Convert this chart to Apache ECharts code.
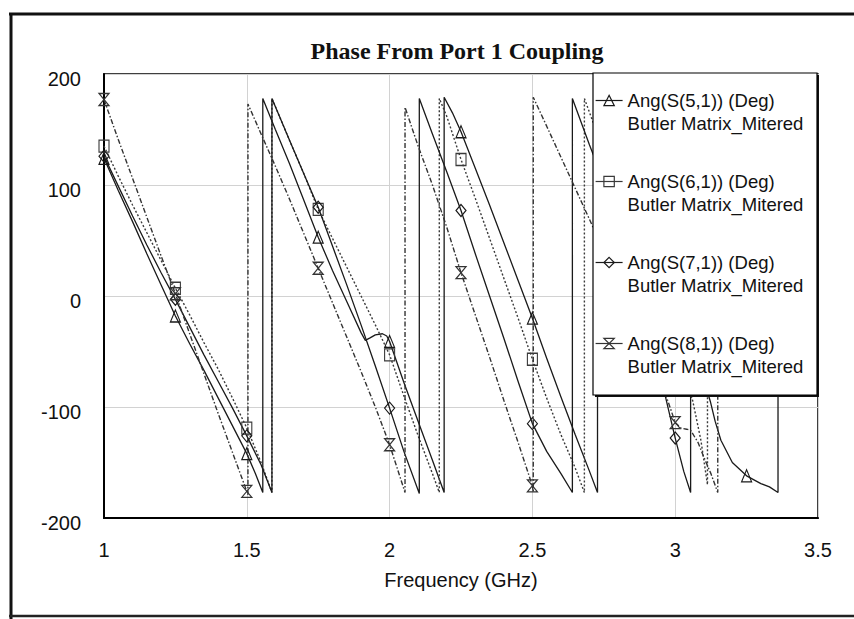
<!DOCTYPE html>
<html><head><meta charset="utf-8">
<script src="https://cdn.jsdelivr.net/npm/echarts@6/dist/echarts.min.js"></script>
<style>html,body{margin:0;padding:0;background:#fff}#c{width:854px;height:619px}</style>
</head><body><div id="c"></div>
<script>
const chartTitle = 'Phase From Port 1 Coupling';
const xAxisName = 'Frequency (GHz)';
const xTicks = [1, 1.5, 2, 2.5, 3, 3.5];
const yTicks = [-200, -100, 0, 100, 200];
const markerFreqs = [1, 1.25, 1.5, 1.75, 2, 2.25, 2.5, 2.75, 3, 3.25];
const seriesNames = ['Ang(S(5,1)) (Deg)', 'Ang(S(6,1)) (Deg)', 'Ang(S(7,1)) (Deg)', 'Ang(S(8,1)) (Deg)'];
const docName = 'Butler Matrix_Mitered';

const s51Freq = [1.0,1.05,1.1,1.15,1.2,1.25,1.3,1.35,1.4,1.45,1.5,1.53,1.556, 1.556,1.6,1.65,1.7,1.75,1.8,1.85,1.9,1.915,1.93,1.95,1.975,1.99,2.0,2.05,2.1,2.15,2.191, 2.191,2.22,2.25,2.3,2.35,2.4,2.45,2.5,2.55,2.6,2.65,2.7,2.728, 2.728,2.75,2.8,2.85,2.9,2.95,3.0,3.05,3.1,3.123,3.14,3.16,3.2,3.25,3.3,3.33,3.36, 3.36,3.37];
const s51Phase = [124,95,67,38,10,-18,-43,-67,-92,-117,-142,-160,-177, 178,150,119,86,53,23,-5,-33,-40,-38,-35,-34,-36,-41,-78,-113,-148,-177, 179,165,148,115,82,48,14,-20,-56,-91,-125,-158,-177, 178,163,130,96,62,28,-6,-40,-75,-95,-113,-130,-150,-162,-169,-172,-177, 178,172];

const s61Freq = [1.0,1.05,1.1,1.15,1.2,1.25,1.3,1.35,1.4,1.45,1.5,1.55,1.588, 1.588,1.65,1.7,1.75,1.8,1.85,1.9,1.95,2.0,2.05,2.1,2.15,2.174, 2.174,2.2,2.25,2.3,2.35,2.4,2.45,2.5,2.55,2.6,2.65,2.682, 2.682,2.75,2.8,2.85,2.9,2.95,3.0,3.061,3.09,3.113, 3.113,3.2,3.25,3.3,3.37];
const s61Phase = [135,108,82,57,32,7,-17,-42,-66,-92,-119,-150,-177, 178,140,110,78,52,26,0,-26,-53,-90,-126,-160,-177, 178,162,123,88,52,16,-20,-57,-92,-125,-155,-177, 178,130,95,60,25,-10,-45,-94,-130,-170, 178,118,84,50,2];

const s71Freq = [1.0,1.05,1.1,1.15,1.2,1.25,1.3,1.35,1.4,1.45,1.5,1.55,1.588, 1.588,1.65,1.7,1.75,1.8,1.85,1.9,1.95,2.0,2.05,2.104, 2.104,2.15,2.2,2.25,2.3,2.35,2.4,2.45,2.5,2.55,2.6,2.64, 2.64,2.7,2.75,2.8,2.85,2.9,2.967,3.0,3.03,3.054, 3.054,3.1,3.2,3.25,3.3,3.37];
const s71Phase = [126,99,72,46,21,-3,-28,-53,-77,-101,-126,-152,-177, 178,140,110,80,45,10,-26,-63,-101,-140,-178, 178,146,112,77,38,0,-38,-77,-115,-140,-160,-177, 178,136,103,65,25,-15,-92,-128,-158,-177, 178,140,60,22,-15,-68];

const s81Freq = [1.0,1.05,1.1,1.15,1.2,1.25,1.3,1.35,1.4,1.45,1.5,1.504, 1.504,1.55,1.6,1.65,1.7,1.75,1.8,1.85,1.9,1.95,2.0,2.054, 2.054,2.1,2.15,2.2,2.25,2.3,2.35,2.4,2.45,2.5,2.503, 2.503,2.55,2.6,2.65,2.7,2.75,2.8,2.85,2.9,2.95,2.975,3.0,3.02,3.04,3.054,3.08,3.1,3.125,3.149, 3.149,3.2,3.25,3.3,3.37];
const s81Phase = [177,141,106,71,36,2,-34,-70,-106,-141,-176,-179, 173,146,117,87,56,25,-6,-37,-68,-100,-134,-177, 170,135,100,62,21,-17,-55,-94,-132,-171,-177, 179,153,125,97,69,40,11,-18,-48,-79,-95,-114,-119,-120,-121,-132,-145,-160,-177, 178,148,118,88,46];

function build(freq, phase) {
  return freq.map(function (f, i) {
    const onGrid = markerFreqs.some(function (m) { return Math.abs(m - f) < 1e-9; });
    const first = !(i > 0 && freq[i - 1] === f);
    return (onGrid && first) ? { value: [f, phase[i]] } : { value: [f, phase[i]], symbol: 'none' };
  });
}

const hourglass = 'path://M0,0L10,0L5,6L10,12L0,12L5,6Z';
const styles = [
  { symbol: 'triangle', color: '#1a1a1a', type: 'solid', width: 1.3 },
  { symbol: 'rect', color: '#3a3a3a', type: [2, 2], width: 1.4 },
  { symbol: 'diamond', color: '#1a1a1a', type: 'solid', width: 1.3 },
  { symbol: hourglass, color: '#333333', type: [5, 2, 1.5, 2], width: 1.4 }
];
const datasets = [[s51Freq, s51Phase], [s61Freq, s61Phase], [s71Freq, s71Phase], [s81Freq, s81Phase]];

const series = datasets.map(function (d, k) {
  const st = styles[k];
  return {
    name: seriesNames[k], type: 'line', data: build(d[0], d[1]),
    symbol: st.symbol, symbolSize: [10, 12], showSymbol: true, showAllSymbol: true,
    lineStyle: { color: st.color, width: st.width, type: st.type },
    itemStyle: { color: 'rgba(255,255,255,0)', borderColor: st.color, borderWidth: 1.2 },
    emphasis: { disabled: true }, clip: true, z: 2, animation: false
  };
});

const axisFont = { fontFamily: 'Liberation Sans', fontSize: 20, color: '#111' };

const chart = echarts.init(document.getElementById('c'), null, { renderer: 'svg' });
chart.setOption({
  backgroundColor: '#fff',
  animation: false,
  title: {
    text: chartTitle, left: 452, top: 34, textAlign: 'center',
    textStyle: { fontFamily: 'Liberation Serif', fontWeight: 'bold', fontSize: 24, color: '#111' }
  },
  grid: { left: 104, right: 36, top: 74, bottom: 101, show: true, borderColor: '#000', borderWidth: 1.5, backgroundColor: 'transparent' },
  xAxis: {
    type: 'value', min: xTicks[0], max: xTicks[xTicks.length - 1], interval: xTicks[1] - xTicks[0],
    name: xAxisName, nameLocation: 'middle', nameGap: 52, nameTextStyle: axisFont,
    axisLine: { show: true, onZero: false, lineStyle: { color: '#000', width: 2 } },
    axisTick: { show: false },
    axisLabel: Object.assign({ margin: 22 }, axisFont),
    splitLine: { show: true, lineStyle: { color: '#d2d2d2', width: 1 } }
  },
  yAxis: {
    type: 'value', min: yTicks[0], max: yTicks[yTicks.length - 1], interval: yTicks[1] - yTicks[0],
    axisLine: { show: true, onZero: false, lineStyle: { color: '#000', width: 2 } },
    axisTick: { show: false },
    axisLabel: Object.assign({ margin: 23, verticalAlign: 'top', lineHeight: 9 }, axisFont),
    splitLine: { show: true, lineStyle: { color: '#d2d2d2', width: 1 } }
  },
  legend: {
    orient: 'vertical', left: 595, top: 66, padding: 0, itemGap: 12,
    itemWidth: 27, itemHeight: 13, z: 20, selectedMode: false,
    textStyle: { fontFamily: 'Liberation Sans', fontSize: 18.5, color: '#111', lineHeight: 23 },
    formatter: function (n) { return '\n' + n + '\n' + docName; },
    itemStyle: { borderWidth: 1.2 },
    lineStyle: { type: 'solid', width: 1.2 },
    data: seriesNames
  },
  graphic: { elements: [
    { type: 'rect', z: 10, silent: true, shape: { x: 595, y: 75, width: 224, height: 322 }, style: { fill: '#111' } },
    { type: 'rect', z: 11, silent: true, shape: { x: 593, y: 73, width: 224, height: 322 }, style: { fill: '#fff', stroke: '#000', lineWidth: 1.2 } },
    { type: 'line', z: 1, silent: true, shape: { x1: 9, y1: 14, x2: 854, y2: 14 }, style: { stroke: '#111', lineWidth: 3 } },
    { type: 'line', z: 1, silent: true, shape: { x1: 11, y1: 13, x2: 11, y2: 619 }, style: { stroke: '#111', lineWidth: 3 } },
    { type: 'line', z: 1, silent: true, shape: { x1: 9, y1: 616, x2: 854, y2: 616 }, style: { stroke: '#222', lineWidth: 2.5 } }
  ] },
  series: series
});
</script></body></html>
